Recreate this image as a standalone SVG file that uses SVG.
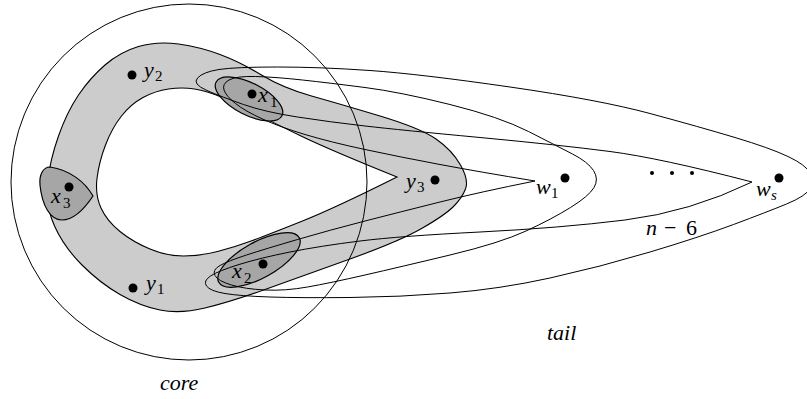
<svg xmlns="http://www.w3.org/2000/svg" width="807" height="399" viewBox="0 0 807 399">
<style>
.ln{fill:none;stroke:#000;stroke-width:1}
.band{fill:#cccccc;stroke:#000;stroke-width:1.1;fill-rule:evenodd}
.dk{fill:#a6a6a6;stroke:#000;stroke-width:1.2}
.dot{fill:#000}
.lb{font-family:'Liberation Serif','Times New Roman',serif;font-style:italic;font-size:22px;fill:#000}
.up{font-family:'Liberation Serif','Times New Roman',serif;font-style:normal;font-size:22px;fill:#000}
.sb{font-family:'Liberation Serif','Times New Roman',serif;font-style:normal;font-size:15px;fill:#000}
.si{font-family:'Liberation Serif','Times New Roman',serif;font-style:italic;font-size:15px;fill:#000}
</style>
<rect width="807" height="399" fill="#fff"/>
<g id="band">
<path class="band" d="M460.5,165 Q452,150 436,139 Q420,128 380,116 Q340,104 311.5,96 Q283,88 261.5,75 Q240,62 220,54.5 Q200,47 178.5,44 Q157,41 138.5,46.5 Q120,52 105,65 Q90,78 78.5,95 Q67,112 58.5,136 Q50,160 47.5,182.5 Q45,205 54.5,226 Q64,247 82,265 Q100,283 120,294.5 Q140,306 160,310 Q180,314 205,308 Q230,302 265,289.5 Q300,277 350,259 Q400,241 422.5,228 Q445,215 453.5,206.5 Q462,198 465.5,189 Q469,180 460.5,165 Z M397,177 Q330,150 301,136 Q272,122 253.5,112.5 Q235,103 221,97 Q207,91 194.5,89 Q182,87 168.5,89 Q155,91 143,97.5 Q131,104 121.5,116 Q112,128 105.5,145 Q99,162 97,178.5 Q95,195 101,208 Q107,221 120,231.5 Q133,242 150,249 Q167,256 183.5,256 Q200,256 217.5,251.5 Q235,247 252.5,240.5 Q270,234 302.5,221 Q335,208 397,177 Z"/>
</g>
<g id="x1">
<ellipse class="dk" cx="249" cy="99" rx="37" ry="16" transform="rotate(27 249 99)"/>
<circle class="dot" cx="252" cy="94" r="4.5"/>
<text class="lb" x="258" y="102">x</text><text class="sb" x="270" y="107">1</text>
</g>
<g id="x2">
<ellipse class="dk" cx="259" cy="260" rx="46" ry="18" transform="rotate(-29 259 260)"/>
<circle class="dot" cx="263" cy="264" r="4.5"/>
<text class="lb" x="232" y="278">x</text><text class="sb" x="244" y="283">2</text>
</g>
<g id="x3">
<path class="dk" d="M50,167 C70,170 85,182 93,196 C85,208 75,220 62,220 C50,220 42,205 40,185 C39,175 43,167 50,167 Z"/>
<circle class="dot" cx="69" cy="187" r="4.5"/>
<text class="lb" x="51" y="203">x</text><text class="sb" x="63" y="208">3</text>
</g>
<g id="hyperedges">
<path id="edge-w1" class="ln" d="M535,181 Q480,172 440,164.5 Q400,157 365,149.5 Q330,142 305,134.5 Q280,127 262.5,119 Q245,111 235.5,103.5 Q226,96 224,90 Q222,84 229,80 Q236,76 255.5,76.5 Q275,77 302.5,80 Q330,83 365,87.5 Q400,92 450,104.5 Q500,117 528.5,131.5 Q557,146 572.5,154 Q588,162 593.5,170.5 Q599,179 594,187.5 Q589,196 570.5,207.5 Q552,219 526,231 Q500,243 450,255 Q400,267 365,275 Q330,283 307.5,287 Q285,291 265,290 Q245,289 231.5,285 Q218,281 215,275.5 Q212,270 220,265.5 Q228,261 246.5,255 Q265,249 297.5,239.5 Q330,230 365,221 Q400,212 440,202 Q480,192 535,181 Z"/>
<path id="edge-ws" class="ln" d="M752,182 Q660,158 610,151.5 Q560,145 480,137.5 Q400,130 365,126 Q330,122 297.5,117 Q265,112 243.5,104.5 Q222,97 207,90.5 Q192,84 197.5,78 Q203,72 219,69.5 Q235,67 277.5,67 Q320,67 370,70.5 Q420,74 510,87 Q600,100 650,113.5 Q700,127 735,137.5 Q770,148 788,156.5 Q806,165 810,173 Q814,181 810,188.5 Q806,196 786.5,204 Q767,212 733.5,224.5 Q700,237 650,252 Q600,267 550,278 Q500,289 450,293 Q400,297 350,297.5 Q300,298 270,297 Q240,296 225,293.5 Q210,291 206.5,286 Q203,281 210.5,276 Q218,271 239,264.5 Q260,258 290,252 Q320,246 360,241 Q400,236 480,232 Q560,228 625,220 Q690,212 752,182 Z"/>
</g>
<g id="core">
<circle class="ln" cx="189" cy="182" r="178"/>
<text class="lb" x="160" y="390">core</text>
</g>
<g id="y2">
<circle class="dot" cx="132" cy="75" r="4.5"/>
<text class="lb" x="144" y="77">y</text><text class="sb" x="155" y="81">2</text>
</g>
<g id="y1">
<circle class="dot" cx="133" cy="288" r="4.5"/>
<text class="lb" x="146" y="290">y</text><text class="sb" x="157" y="294">1</text>
</g>
<g id="y3">
<circle class="dot" cx="435" cy="180" r="4.5"/>
<text class="lb" x="406" y="188">y</text><text class="sb" x="417" y="192">3</text>
</g>
<g id="w1">
<circle class="dot" cx="565" cy="178" r="4.5"/>
<text class="lb" x="536" y="194">w</text><text class="sb" x="551" y="198">1</text>
</g>
<g id="ws">
<circle class="dot" cx="779" cy="178" r="4.5"/>
<text class="lb" x="756" y="196">w</text><text class="si" x="771" y="200">s</text>
</g>
<g id="dots">
<circle class="dot" cx="652" cy="173" r="2"/>
<circle class="dot" cx="672" cy="173" r="2"/>
<circle class="dot" cx="692" cy="173" r="2"/>
</g>
<g id="labels">
<text class="lb" x="646" y="235">n</text>
<text class="up" x="664" y="235">−</text>
<text class="up" x="686" y="235">6</text>
<text class="lb" x="547" y="340">tail</text>
</g>
</svg>
